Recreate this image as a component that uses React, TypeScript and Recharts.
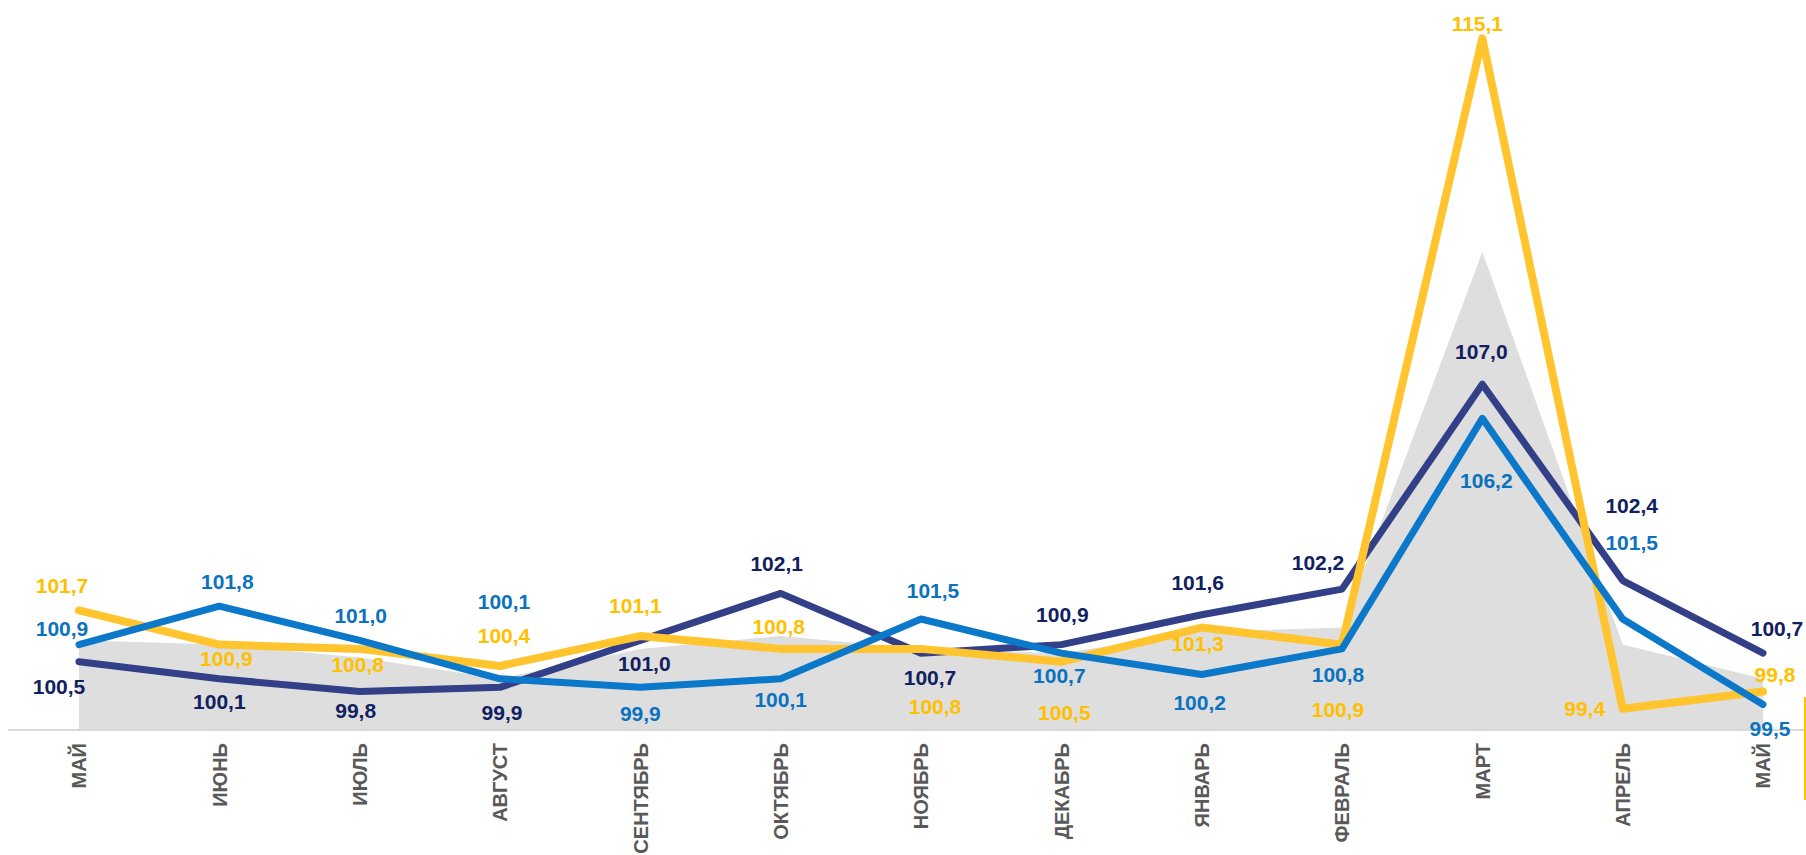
import { ComposedChart, Area, Line, XAxis, YAxis, LabelList } from "recharts";

const months = [
  "МАЙ", "ИЮНЬ", "ИЮЛЬ", "АВГУСТ", "СЕНТЯБРЬ", "ОКТЯБРЬ", "НОЯБРЬ",
  "ДЕКАБРЬ", "ЯНВАРЬ", "ФЕВРАЛЬ", "МАРТ", "АПРЕЛЬ", "МАЙ",
];
const navyValues = [100.5, 100.1, 99.8, 99.9, 101.0, 102.1, 100.7, 100.9, 101.6, 102.2, 107.0, 102.4, 100.7];
const blueValues = [100.9, 101.8, 101.0, 100.1, 99.9, 100.1, 101.5, 100.7, 100.2, 100.8, 106.2, 101.5, 99.5];
const yellowValues = [101.7, 100.9, 100.8, 100.4, 101.1, 100.8, 100.8, 100.5, 101.3, 100.9, 115.1, 99.4, 99.8];
const grayValues = [101.0, 100.9, 100.6, 100.1, 100.8, 101.1, 100.8, 100.7, 101.2, 101.3, 110.1, 100.9, 100.1];

// label placement, offset of label centre from the point
const navyOffsets = [
  [-20, 25], [0, 23], [-4, 19], [2, 25], [4, 23], [-4, -30], [9, 24],
  [1, -30], [-4, -32], [-24, -27], [-1, -33], [9, -75], [14, -25],
];
const blueOffsets = [
  [-17, -16], [8, -25], [1, -25], [4, -77], [0, 26], [0, 21], [12, -29],
  [-2, 22], [-2, 28], [-4, 26], [4, 62], [9, -77], [7, 24],
];
const yellowOffsets = [
  [-17, -25], [7, 14], [-2, 16], [4, -31], [-5, -31], [-2, -22], [14, 58],
  [3, 51], [-4, 16], [-4, 65], [-5, -15], [-38, 0], [12, -17],
];

const data = months.map((m, i) => ({
  month: m,
  navy: navyValues[i],
  blue: blueValues[i],
  yellow: yellowValues[i],
  gray: grayValues[i],
}));

const FONT = '"Liberation Sans", Arial, sans-serif';

function makeLabel(color: string, offsets: number[][]) {
  return (props: any) => {
    const { x, y, value, index } = props;
    const [dx, dy] = offsets[index] || [0, -20];
    return (
      <text
        x={x + dx}
        y={y + dy}
        dy="0.36em"
        textAnchor="middle"
        fill={color}
        fontFamily={FONT}
        fontWeight="bold"
        fontSize={21}
      >
        {Number(value).toFixed(1).replace(".", ",")}
      </text>
    );
  };
}

function MonthTick(props: any) {
  const { x, y, payload } = props;
  return (
    <text
      transform={`translate(${x},${y + 13}) rotate(-90)`}
      textAnchor="end"
      dy="0.36em"
      fill="#595959"
      fontFamily={FONT}
      fontWeight="bold"
      fontSize={20}
    >
      {payload.value}
    </text>
  );
}

export default function App() {
  return (
    <div style={{ position: "absolute", left: 0, top: 0, width: 1806, height: 855 }}>
      <ComposedChart
        width={1806}
        height={855}
        data={data}
        margin={{ top: 0, right: 0, bottom: 0, left: 8 }}
      >
        <XAxis
          dataKey="month"
          interval={0}
          height={125}
          padding={{ left: 71, right: 43 }}
          axisLine={{ stroke: "#D9D9D9", strokeWidth: 2 }}
          tickLine={false}
          tickSize={0}
          tickMargin={0}
          tick={<MonthTick />}
        />
        <YAxis hide domain={[98.9, 116]} />
        <Area
          dataKey="gray"
          type="linear"
          fill="#DEDEDE"
          fillOpacity={1}
          stroke="none"
          isAnimationActive={false}
        />
        <Line
          dataKey="navy"
          type="linear"
          stroke="#333F87"
          strokeWidth={7}
          strokeLinejoin="round"
          strokeLinecap="round"
          dot={false}
          isAnimationActive={false}
        >
          <LabelList dataKey="navy" content={makeLabel("#112060", navyOffsets)} />
        </Line>
        <Line
          dataKey="yellow"
          type="linear"
          stroke="#FFC42E"
          strokeWidth={8}
          strokeLinejoin="round"
          strokeLinecap="round"
          dot={false}
          isAnimationActive={false}
        >
          <LabelList dataKey="yellow" content={makeLabel("#FFC000", yellowOffsets)} />
        </Line>
        <Line
          dataKey="blue"
          type="linear"
          stroke="#0B78C9"
          strokeWidth={7}
          strokeLinejoin="round"
          strokeLinecap="round"
          dot={false}
          isAnimationActive={false}
        >
          <LabelList dataKey="blue" content={makeLabel("#0B72C0", blueOffsets)} />
        </Line>
      </ComposedChart>
      <div
        style={{
          position: "absolute",
          left: 1804,
          top: 697,
          width: 2,
          height: 103,
          background: "#FFC000",
        }}
      />
    </div>
  );
}
